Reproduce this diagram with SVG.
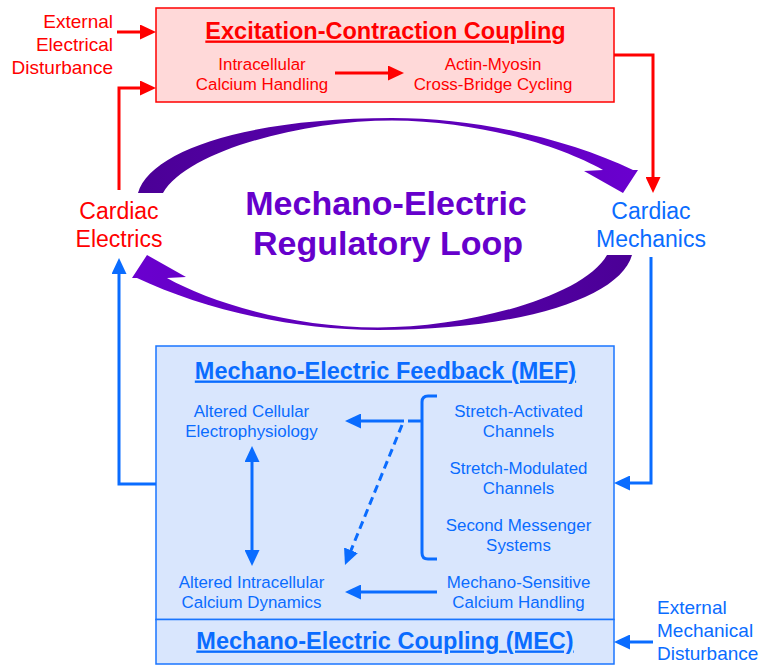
<svg xmlns="http://www.w3.org/2000/svg" width="759" height="665" viewBox="0 0 759 665">
<style>
text{font-family:"Liberation Sans",Arial,Helvetica,sans-serif}
.red{fill:#ff0000}
.blue{fill:#0a6cff}
.body{font-size:16.9px}
.side{font-size:19px}
.big{font-size:23px}
.title{font-size:23.5px;font-weight:bold;text-decoration:underline}
.mid{text-anchor:middle}
.loop{font-size:34px;font-weight:bold;fill:#6600cc;text-anchor:middle}
.rl{fill:none;stroke:#ff0000;stroke-width:3}
.bl{fill:none;stroke:#0a6cff;stroke-width:3}
</style>
<defs>
<marker id="ar" markerUnits="userSpaceOnUse" markerWidth="16" markerHeight="15" refX="4" refY="7.5" orient="auto" viewBox="0 0 16 15"><path d="M0,0 L16,7.5 L0,15 Z" fill="#ff0000"/></marker>
<marker id="ab" markerUnits="userSpaceOnUse" markerWidth="16" markerHeight="15" refX="4" refY="7.5" orient="auto-start-reverse" viewBox="0 0 16 15"><path d="M0,0 L16,7.5 L0,15 Z" fill="#0a6cff"/></marker>
<linearGradient id="pg" gradientUnits="userSpaceOnUse" x1="138" y1="0" x2="638" y2="0"><stop offset="0" stop-color="#4b0096"/><stop offset="1" stop-color="#6a00cf"/></linearGradient>
<path id="arc" d="M138,193 C150,150 250,118 392,118 C480,118 570,140 633,170 L638,170 L623,193 L584,171 L603,170 C562,147 482,121 392,120.5 C302,120.5 187,151 163,193 Z" fill="url(#pg)"/>
</defs>

<g id="ecc">
<rect x="156" y="8" width="458" height="94" fill="#ffd9d9" stroke="#ff0000" stroke-width="1.5"/>
<text class="title red mid" x="385.5" y="38.5">Excitation-Contraction Coupling</text>
</g>
<g id="ca-handling">
<text class="body red mid" x="262" y="70">Intracellular</text>
<text class="body red mid" x="262" y="90">Calcium Handling</text>
</g>
<g id="cross-bridge">
<text class="body red mid" x="493" y="70">Actin-Myosin</text>
<text class="body red mid" x="493" y="90">Cross-Bridge Cycling</text>
</g>
<g id="ext-electrical">
<text class="side red" text-anchor="end" x="113" y="27.5">External</text>
<text class="side red" text-anchor="end" x="113" y="50.5">Electrical</text>
<text class="side red" text-anchor="end" x="113" y="73.5">Disturbance</text>
</g>
<g id="cardiac-electrics">
<text class="big red mid" x="119" y="219">Cardiac</text>
<text class="big red mid" x="119" y="246.5">Electrics</text>
</g>
<g id="cardiac-mechanics">
<text class="big blue mid" x="651" y="219">Cardiac</text>
<text class="big blue mid" x="651" y="246.5">Mechanics</text>
</g>
<g id="loop-label">
<text class="loop" x="386" y="215">Mechano-Electric</text>
<text class="loop" x="388" y="255">Regulatory Loop</text>
</g>

<g id="mef">
<rect x="156" y="346" width="458" height="273.5" fill="#d9e6fd" stroke="#1a75ff" stroke-width="1.5"/>
<text class="title blue mid" x="385.5" y="378.5">Mechano-Electric Feedback (MEF)</text>
</g>
<g id="altered-ep">
<text class="body blue mid" x="251.5" y="417">Altered Cellular</text>
<text class="body blue mid" x="251.5" y="437">Electrophysiology</text>
</g>
<g id="sac">
<text class="body blue mid" x="518.5" y="417">Stretch-Activated</text>
<text class="body blue mid" x="518.5" y="437">Channels</text>
</g>
<g id="smc">
<text class="body blue mid" x="518.5" y="473.5">Stretch-Modulated</text>
<text class="body blue mid" x="518.5" y="493.5">Channels</text>
</g>
<g id="second-messenger">
<text class="body blue mid" x="518.5" y="530.5">Second Messenger</text>
<text class="body blue mid" x="518.5" y="550.5">Systems</text>
</g>
<g id="ms-calcium">
<text class="body blue mid" x="518.5" y="587.5">Mechano-Sensitive</text>
<text class="body blue mid" x="518.5" y="607.5">Calcium Handling</text>
</g>
<g id="altered-ca">
<text class="body blue mid" x="251.5" y="587.5">Altered Intracellular</text>
<text class="body blue mid" x="251.5" y="607.5">Calcium Dynamics</text>
</g>
<g id="mec">
<rect x="156" y="619.5" width="458" height="44.5" fill="#d9e6fd" stroke="#1a75ff" stroke-width="1.5"/>
<text class="title blue mid" x="385" y="648.5">Mechano-Electric Coupling (MEC)</text>
</g>
<g id="ext-mechanical">
<text class="side blue" x="657" y="613.5">External</text>
<text class="side blue" x="657" y="636.5">Mechanical</text>
<text class="side blue" x="657" y="659.5">Disturbance</text>
</g>

<g id="connectors">
<use href="#arc"/>
<use href="#arc" transform="rotate(180 385 224)"/>
<path class="rl" d="M117,32 H144" marker-end="url(#ar)"/>
<path class="rl" d="M119,190 V88 H144" marker-end="url(#ar)"/>
<path class="rl" d="M335,73 H392" marker-end="url(#ar)"/>
<path class="rl" d="M614,55 H653 V181" marker-end="url(#ar)"/>
<path class="bl" d="M156,484 H119 V270" marker-end="url(#ab)"/>
<path class="bl" d="M651,257 V483 H626" marker-end="url(#ab)"/>
<path class="bl" d="M653,642 H626" marker-end="url(#ab)"/>
<path class="bl" d="M404,421 H357" marker-end="url(#ab)"/>
<path class="bl" d="M437,396 H428 Q422,396 422,402 V553 Q422,559 428,559 H437 M408,421 H422"/>
<path class="bl" d="M402,425 L349.5,554" stroke-dasharray="8,5" marker-end="url(#ab)"/>
<path class="bl" d="M252,458 V554" marker-start="url(#ab)" marker-end="url(#ab)"/>
<path class="bl" d="M437,592 H357" marker-end="url(#ab)"/>
</g>
</svg>
